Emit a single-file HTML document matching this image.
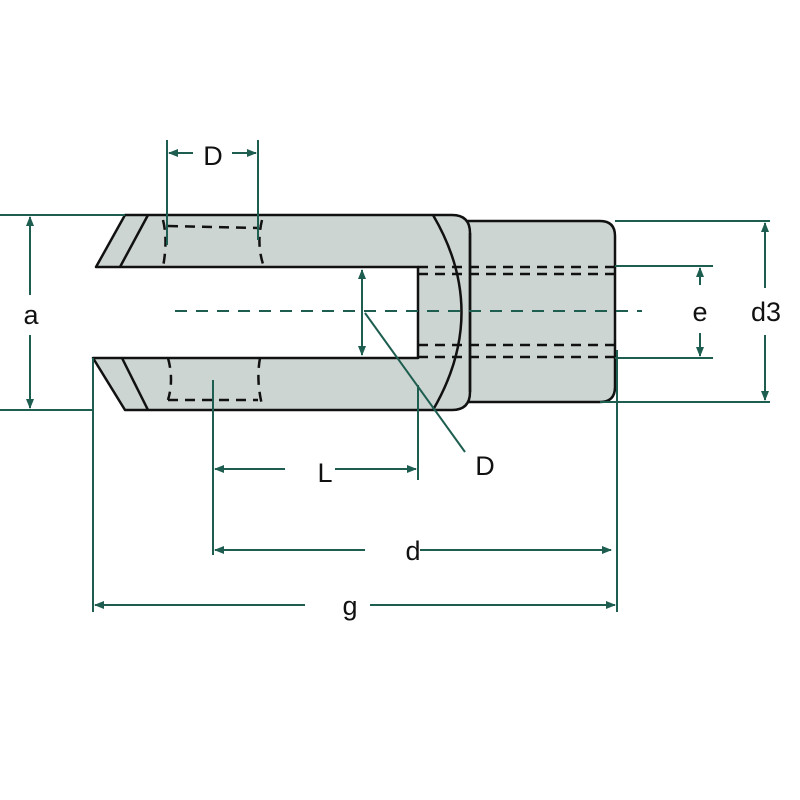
<!DOCTYPE html>
<html><head><style>html,body{margin:0;padding:0;background:#fff}svg{display:block}</style></head>
<body>
<svg width="800" height="800" viewBox="0 0 800 800" xmlns="http://www.w3.org/2000/svg">
<defs>
<marker id="ar" viewBox="0 0 10 10" refX="9" refY="5" markerWidth="11" markerHeight="10" markerUnits="userSpaceOnUse" orient="auto-start-reverse">
<path d="M0,1 L10,5 L0,9 Z" fill="#1e5e50"/></marker>
</defs>
<g stroke="#111" stroke-width="2.5" fill="#cdd5d2" stroke-linejoin="round">
<path d="M455,221 H600 Q615,221 615,236 V387 Q615,402 600,402 H455 Z"/>
<path d="M125,215 H452 Q470,215 470,233 V392 Q470,410 452,410 H125 L93,358 H418 V267 H96 Z"/>
</g>
<g stroke="#111" stroke-width="2.5" fill="none">
<line x1="148" y1="215" x2="120" y2="267"/>
<line x1="122" y1="358" x2="148" y2="410"/>
<path d="M433,215 Q490,312 433,410"/>
<line x1="470" y1="233" x2="470" y2="392"/>
</g>
<g stroke="#111" stroke-width="2.5" fill="none" stroke-dasharray="10,7">
<line x1="168" y1="226" x2="258" y2="228"/>
<line x1="168" y1="400" x2="258" y2="400"/>
<path d="M163,220 Q168,240 163,267"/>
<path d="M262,220 Q256,245 264,267"/>
<path d="M168,358 Q174,380 168,400"/>
<path d="M260,358 Q256,380 262,405"/>
<line x1="418" y1="267" x2="615" y2="267"/>
<line x1="418" y1="274" x2="615" y2="274"/>
<line x1="418" y1="345" x2="615" y2="345"/>
<line x1="418" y1="357" x2="615" y2="357"/>
</g>
<g stroke="#1e5e50" stroke-width="2" fill="none">
<line x1="175" y1="311" x2="642" y2="311" stroke-dasharray="12,9"/>
<line x1="0" y1="215" x2="125" y2="215"/>
<line x1="0" y1="410" x2="93" y2="410"/>
<line x1="30" y1="217" x2="30" y2="295" marker-start="url(#ar)"/>
<line x1="30" y1="335" x2="30" y2="408" marker-end="url(#ar)"/>
<line x1="167" y1="140" x2="167" y2="245"/>
<line x1="258" y1="140" x2="258" y2="240"/>
<line x1="169" y1="153" x2="193" y2="153" marker-start="url(#ar)"/>
<line x1="232" y1="153" x2="256" y2="153" marker-end="url(#ar)"/>
<line x1="362" y1="270" x2="362" y2="355" marker-start="url(#ar)" marker-end="url(#ar)"/>
<line x1="365" y1="313" x2="465" y2="452"/>
<line x1="213" y1="380" x2="213" y2="555"/>
<line x1="418" y1="385" x2="418" y2="480"/>
<line x1="215" y1="469" x2="285" y2="469" marker-start="url(#ar)"/>
<line x1="335" y1="469" x2="416" y2="469" marker-end="url(#ar)"/>
<line x1="215" y1="550" x2="365" y2="550" marker-start="url(#ar)"/>
<line x1="420" y1="550" x2="611" y2="550" marker-end="url(#ar)"/>
<line x1="93" y1="358" x2="93" y2="612"/>
<line x1="617" y1="350" x2="617" y2="612"/>
<line x1="95" y1="605" x2="305" y2="605" marker-start="url(#ar)"/>
<line x1="370" y1="605" x2="615" y2="605" marker-end="url(#ar)"/>
<line x1="615" y1="266" x2="713" y2="266"/>
<line x1="615" y1="358" x2="713" y2="358"/>
<line x1="700" y1="268" x2="700" y2="285" marker-start="url(#ar)"/>
<line x1="700" y1="333" x2="700" y2="356" marker-end="url(#ar)"/>
<line x1="615" y1="221" x2="770" y2="221"/>
<line x1="600" y1="402" x2="770" y2="402"/>
<line x1="765" y1="223" x2="765" y2="288" marker-start="url(#ar)"/>
<line x1="765" y1="335" x2="765" y2="400" marker-end="url(#ar)"/>
</g>
<g font-family="'Liberation Sans', 'DejaVu Sans', sans-serif" font-size="27" fill="#111" text-anchor="middle">
<text x="31" y="324">a</text>
<text x="213" y="165">D</text>
<text x="485" y="475">D</text>
<text x="325" y="482">L</text>
<text x="413" y="560">d</text>
<text x="350" y="615">g</text>
<text x="700" y="321">e</text>
<text x="766" y="321">d3</text>
</g>
</svg>
</body></html>
